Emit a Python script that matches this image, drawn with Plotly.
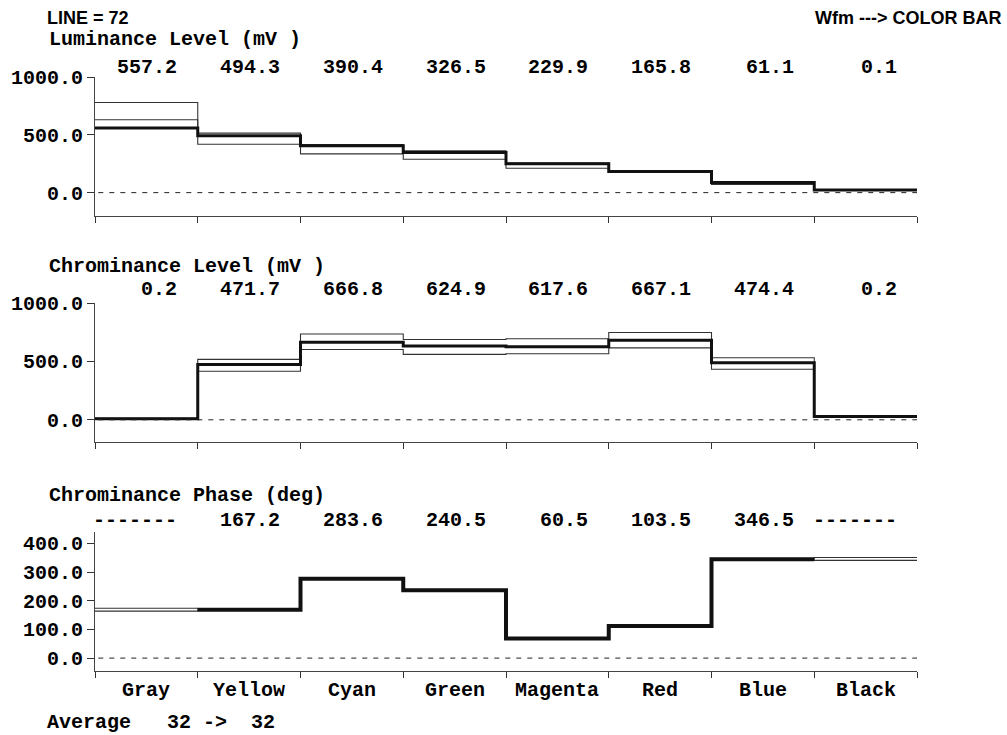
import plotly.graph_objects as go

# ---------------- data ----------------
categories = ["Gray", "Yellow", "Cyan", "Green", "Magenta", "Red", "Blue", "Black"]

lum_labels = [557.2, 494.3, 390.4, 326.5, 229.9, 165.8, 61.1, 0.1]
lum_trace = [558, 491, 405, 347, 249, 182, 87, 23]
lum_upper = [780, 515, 415, 361, 255, 186, 90, 26]
lum_lower = [630, 419, 335, 289, 211, 178, 71, 18]

chr_labels = [0.2, 471.7, 666.8, 624.9, 617.6, 667.1, 474.4, 0.2]
chr_trace = [8, 474, 665, 631, 625, 682, 488, 28]
chr_upper = [12, 517, 734, 688, 694, 748, 531, 32]
chr_lower = [4, 416, 602, 560, 565, 616, 433, 24]

ph_labels = [None, 167.2, 283.6, 240.5, 60.5, 103.5, 346.5, None]
ph_trace = [None, 169, 277, 237, 68, 112, 345, None]
ph_upper = [174, 171, 279, 239, 70, 114, 347, 351]
ph_lower = [164, 167, 275, 235, 66, 110, 343, 341]

line_no = 72
avg_from, avg_to = 32, 32

# ---------------- layout helpers ----------------
W, H = 1007, 735
MONO = "Liberation Mono, Courier New, monospace"
SANS = "Liberation Sans, Arial, sans-serif"
MSIZE = 20
X0, X1 = 95, 917


def fx(p):
    return p / W


def fy(p):
    return 1 - p / H


def step_xy(vals):
    xs, ys = [], []
    n = len(vals)
    i = 0
    while i < n:
        if vals[i] is None:
            i += 1
            continue
        j = i
        while j < n and vals[j] is not None:
            j += 1
        xs += list(range(i, j + 1))
        ys += [vals[k] for k in range(i, j)] + [vals[j - 1]]
        xs.append(None)
        ys.append(None)
        i = j
    return xs, ys


panels = [
    dict(top=77, bot=216, rng=[-202, 1000], ticks=[0, 500, 1000],
         title="Luminance Level (mV )", title_y=40, lab_y=67,
         labels=lum_labels, trace=lum_trace, upper=lum_upper, lower=lum_lower, tw=3),
    dict(top=303, bot=442, rng=[-190, 1000], ticks=[0, 500, 1000],
         title="Chrominance Level (mV )", title_y=266, lab_y=289,
         labels=chr_labels, trace=chr_trace, upper=chr_upper, lower=chr_lower, tw=3),
    dict(top=532, bot=671, rng=[-45, 440], ticks=[0, 100, 200, 300, 400],
         title="Chrominance Phase (deg)", title_y=496, lab_y=520.5,
         labels=ph_labels, trace=ph_trace, upper=ph_upper, lower=ph_lower, tw=4),
]

fig = go.Figure()
annotations = []
shapes = []
layout_axes = {}

for k, p in enumerate(panels, start=1):
    xa = "x" if k == 1 else f"x{k}"
    ya = "y" if k == 1 else f"y{k}"
    for arr, wdt in ((p["upper"], 1.1), (p["lower"], 1.1), (p["trace"], p["tw"])):
        xs, ys = step_xy(arr)
        fig.add_trace(go.Scatter(x=xs, y=ys, mode="lines", line_shape="hv",
                                 line=dict(color="#111" if wdt > 2 else "#333", width=wdt),
                                 xaxis=xa, yaxis=ya, showlegend=False, hoverinfo="skip"))
    # zero reference dashed line
    shapes.append(dict(type="line", xref=f"{xa} domain", yref=ya, x0=0.004, x1=1, y0=0, y1=0,
                       line=dict(color="#222", width=1, dash="5px,6px")))
    layout_axes["xaxis" if k == 1 else f"xaxis{k}"] = dict(
        domain=[fx(X0), fx(X1)], range=[0, 8], anchor=ya, automargin=False,
        tickmode="array", tickvals=list(range(0, 9)), showticklabels=False,
        ticks="outside", ticklen=6, tickwidth=1, tickcolor="#333",
        showline=True, linecolor="#444", linewidth=1,
        showgrid=False, zeroline=False, fixedrange=True)
    layout_axes["yaxis" if k == 1 else f"yaxis{k}"] = dict(
        domain=[fy(p["bot"]), fy(p["top"])], range=p["rng"], anchor=xa, automargin=False,
        tickmode="array", tickvals=p["ticks"], tickformat=".1f",
        tickfont=dict(family=MONO, size=MSIZE, color="#000", weight=700),
        ticks="outside", ticklen=7, tickwidth=1, tickcolor="#333",
        showline=True, linecolor="#444", linewidth=1,
        showgrid=False, zeroline=False, fixedrange=True)
    # panel title
    annotations.append(dict(text=p["title"], xref="paper", yref="paper",
                            x=fx(47), y=fy(p["title_y"]), xanchor="left", yanchor="middle",
                            showarrow=False,
                            font=dict(family=MONO, size=MSIZE, color="#000", weight=700)))
    # value labels
    for i, v in enumerate(p["labels"]):
        txt = "-------" if v is None else f"{v:.1f}"
        annotations.append(dict(text=txt, xref=xa, yref="paper",
                                x=i + 0.82, y=fy(p["lab_y"]), xanchor="right", yanchor="middle",
                                showarrow=False,
                                font=dict(family=MONO, size=MSIZE, color="#000", weight=700)))

# category labels under last panel
for i, c in enumerate(categories):
    annotations.append(dict(text=c, xref="x3", yref="paper", x=i + 0.5, y=fy(690),
                            xanchor="center", yanchor="middle", showarrow=False,
                            font=dict(family=MONO, size=MSIZE, color="#000", weight=700)))

annotations.append(dict(text=f"Average   {avg_from} ->  {avg_to}", xref="paper", yref="paper",
                        x=fx(45), y=fy(722), xanchor="left", yanchor="middle", showarrow=False,
                        font=dict(family=MONO, size=MSIZE, color="#000", weight=700)))
annotations.append(dict(text=f"LINE = {line_no}", xref="paper", yref="paper",
                        x=fx(45), y=fy(17.5), xanchor="left", yanchor="middle", showarrow=False,
                        font=dict(family=SANS, size=18, color="#000", weight=700)))
annotations.append(dict(text="Wfm ---> COLOR BAR", xref="paper", yref="paper",
                        x=fx(1003), y=fy(17.5), xanchor="right", yanchor="middle", showarrow=False,
                        font=dict(family=SANS, size=18, color="#000", weight=700)))

fig.update_layout(width=W, height=H, margin=dict(l=0, r=0, t=0, b=0, pad=0, autoexpand=False),
                  autosize=False, paper_bgcolor="white", plot_bgcolor="white",
                  annotations=annotations, shapes=shapes, **layout_axes)

fig.write_html("out.html", config={"displayModeBar": False},
               post_script="document.body.style.margin='0px';document.body.style.overflow='hidden';")
